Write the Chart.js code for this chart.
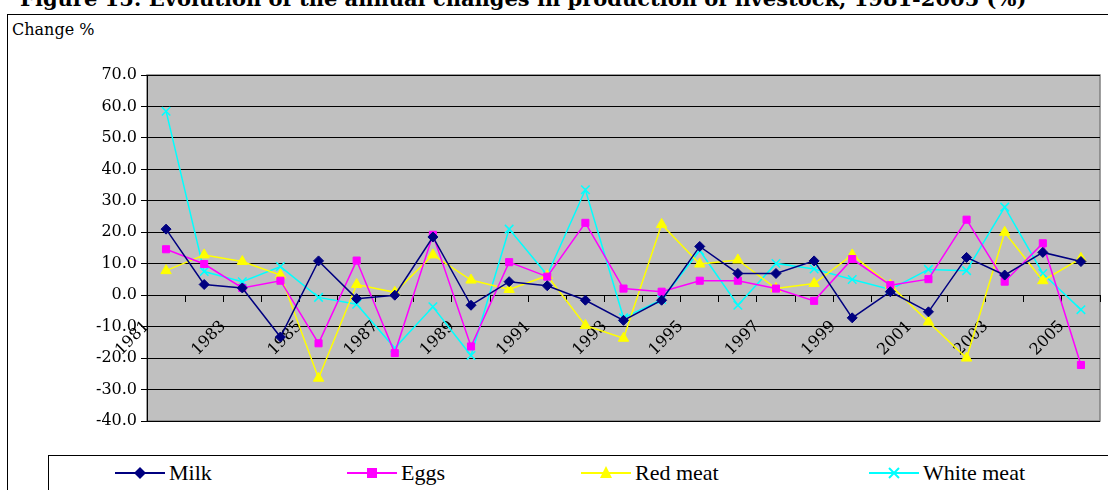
<!DOCTYPE html>
<html>
<head>
<meta charset="utf-8">
<script src="https://cdn.jsdelivr.net/npm/chart.js@4"></script>
<style>
  body { margin: 0; width: 1108px; height: 490px; overflow: hidden; position: relative; background: #fff; font-family: "DejaVu Serif", serif; }
  #title { position: absolute; left: 20px; top: -14px; font: bold 21px "DejaVu Serif", serif; white-space: nowrap; }
  #frame { position: absolute; left: 7px; top: 14px; width: 1110px; height: 490px; border: 1px solid #000; }
  #ylab { position: absolute; left: 12px; top: 20px; font: 16px "DejaVu Serif", serif; }
  #chartbox { position: absolute; left: 0; top: 0; width: 1108px; height: 490px; }
  #legend { position: absolute; left: 48px; top: 455px; width: 1100px; height: 50px; border: 1px solid #000; background: #fff; }
  .item { position: absolute; top: 4px; font: 22px "Liberation Serif", serif; display: flex; align-items: center; }
  .item svg { margin-right: 4px; }
</style>
</head>
<body>
<div id="title">Figure 15: Evolution of the annual changes in production of livestock, 1981-2005 (%)</div>
<div id="frame"></div>
<div id="ylab">Change %</div>
<div id="chartbox"><canvas id="myChart" width="1108" height="490"></canvas></div>
<div id="legend"></div>
<script>
const firstYear = 1981;
const milk = [21.0, 3.4, 2.3, -13.3, 10.9, -1.1, 0.0, 18.5, -3.2, 4.3, 3.0, -1.6, -8.0, -1.6, 15.5, 6.9, 6.9, 10.9, -7.2, 1.1, -5.3, 12.0, 6.4, 13.6, 10.7];
const eggs = [14.6, 9.9, 2.3, 4.6, -15.3, 11.0, -18.4, 19.2, -16.3, 10.5, 5.9, 23.0, 2.1, 1.1, 4.6, 4.6, 2.1, -1.8, 11.5, 3.2, 5.1, 24.0, 4.3, 16.5, -22.2];
const redMeat = [7.8, 12.8, 10.7, 6.4, -26.4, 3.4, 0.9, 12.8, 4.8, 1.8, 6.2, -9.6, -13.7, 22.5, 9.9, 11.2, 2.1, 3.7, 12.8, 3.2, -8.5, -20.0, 20.0, 4.6, 11.7];
const whiteMeat = [58.5, 7.5, 4.3, 9.1, -0.7, -2.9, -16.8, -3.7, -19.2, 21.0, 6.4, 33.5, -7.2, -1.4, 14.2, -3.2, 10.1, 8.3, 5.0, 1.8, 8.2, 7.8, 28.0, 6.9, -4.6];
const yTicks = { min: -40, max: 70, step: 10 };

const series = [
  { label: "Milk", values: milk, color: "#000080", style: "rectRot", radius: 5 },
  { label: "Eggs", values: eggs, color: "#FF00FF", style: "rect", radius: 5 },
  { label: "Red meat", values: redMeat, color: "#FFFF00", style: "triangle", radius: 6 },
  { label: "White meat", values: whiteMeat, color: "#00FFFF", style: "crossRot", radius: 6 },
];

const plotBg = {
  id: "plotBg",
  beforeDraw(chart) {
    const a = chart.chartArea, c = chart.ctx;
    c.save();
    c.fillStyle = "#C0C0C0";
    c.fillRect(a.left, a.top, a.right - a.left, a.bottom - a.top);
    c.strokeStyle = "#808080";
    c.lineWidth = 1.5;
    c.strokeRect(a.left, a.top, a.right - a.left, a.bottom - a.top);
    c.restore();
  },
};

const ctx = document.getElementById("myChart");
new Chart(ctx, {
  type: "line",
  data: {
    datasets: series.map((s) => ({
      label: s.label,
      data: s.values.map((v, i) => ({ x: i + 0.5, y: v })),
      borderColor: s.color,
      backgroundColor: s.color,
      pointStyle: s.style,
      pointRadius: s.radius,
      pointBorderWidth: s.style === "crossRot" ? 1.5 : 1,
      borderWidth: 1.5,
      tension: 0,
    })),
  },
  plugins: [plotBg],
  options: {
    responsive: false,
    animation: false,
    layout: { padding: { top: 75, bottom: 69, right: 8, left: 0 } },
    plugins: { legend: { display: false }, tooltip: { enabled: false } },
    scales: {
      x: {
        type: "linear",
        min: 0,
        max: milk.length,
        position: { y: 0 },
        afterFit: (s) => { s.paddingRight = 0; s.paddingLeft = 0; },
        grid: { drawOnChartArea: false, color: "#000", tickLength: 6 },
        border: { color: "#000" },
        ticks: {
          stepSize: 1,
          autoSkip: false,
          maxRotation: 45,
          minRotation: 45,
          padding: 16,
          color: "#000",
          font: { family: "DejaVu Serif", size: 16 },
          callback: (v) => (v % 2 === 0 ? String(firstYear + v) : ""),
        },
      },
      y: {
        min: yTicks.min,
        max: yTicks.max,
        afterFit: (s) => { s.width = 147; },
        grid: { color: "#000", tickLength: 6 },
        border: { color: "#000" },
        ticks: {
          stepSize: yTicks.step,
          color: "#000",
          padding: 4,
          font: { family: "DejaVu Serif", size: 16 },
          callback: (v) => v.toFixed(1),
        },
      },
    },
  },
});

// legend row
const marks = {
  rectRot: (c) => `<polygon points="25,4 31,10 25,16 19,10" fill="${c}"/>`,
  rect: (c) => `<rect x="20" y="5" width="10" height="10" fill="${c}"/>`,
  triangle: (c) => `<polygon points="25,3 31,15 19,15" fill="${c}"/>`,
  crossRot: (c) => `<path d="M20 5 L30 15 M30 5 L20 15" stroke="${c}" stroke-width="2"/>`,
};
const legendX = [66, 298, 532, 820];
const legend = document.getElementById("legend");
series.forEach((s, i) => {
  const el = document.createElement("div");
  el.className = "item";
  el.style.left = legendX[i] + "px";
  el.innerHTML = `<svg width="50" height="20"><line x1="0" y1="10" x2="50" y2="10" stroke="${s.color}" stroke-width="2"/>${marks[s.style](s.color)}</svg>${s.label}`;
  legend.appendChild(el);
});
</script>
</body>
</html>
